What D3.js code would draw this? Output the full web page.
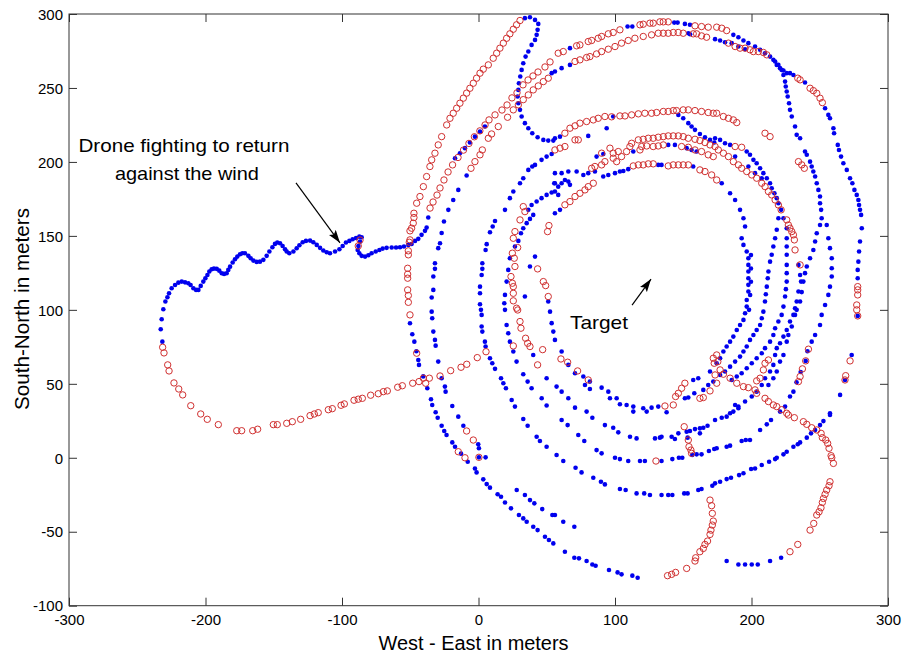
<!DOCTYPE html>
<html><head><meta charset="utf-8">
<script src="https://cdn.jsdelivr.net/npm/d3@7"></script>
<style>
body{margin:0;background:#fff;}
svg{display:block;background:#fff;}
text{font-family:"Liberation Sans",Arial,Helvetica,sans-serif;}
</style>
</head><body>
<svg id="chart" width="904" height="657"></svg>
<script>
// ---------- tick labels ----------
const xTicks = [-300,-200,-100,0,100,200,300];
const yTicks = [-100,-50,0,50,100,150,200,250,300];

// ---------- blue samples (x: West-East m, y: South-North m) ----------
const blueWiggle = [[-36.8,162.4],[-38.0,155.6],[-39.2,153.4],[-41.7,150.7],[-44.1,148.0],[-46.5,146.6],[-49.0,144.5],
[-51.4,143.9],[-54.6,142.8],[-57.5,142.3],[-60.4,142.1],[-63.6,142.1],[-67.3,141.9],[-70.2,141.4],[-72.6,140.5],[-75.3,139.4],[-78.3,138.3],[-80.7,136.9],[-83.1,136.0],[-85.6,136.5],[-87.3,138.3],[-88.5,140.5],[-88.0,143.2],[-86.8,146.1],[-85.6,149.1],[-87.3,149.5],[-89.7,148.6],[-92.2,147.7],[-94.6,146.6],[-97.1,145.5],[-99.5,143.2],[-101.9,141.0],[-105.1,139.4],[-108.8,138.3],[-111.2,138.9],[-113.7,140.1],[-116.1,141.9],[-118.5,143.9],[-121.0,145.7],[-123.4,146.8],[-126.4,146.6],[-128.8,145.7],[-131.2,143.7],[-133.2,141.6],[-135.6,139.4],[-138.6,138.3],[-140.5,139.4],[-141.7,141.0],[-143.5,143.2],[-145.4,145.0],[-147.4,145.5],[-149.1,144.6],[-151.0,142.3],[-153.2,139.4],[-155.2,136.5],[-157.6,133.8],[-160.1,132.6],[-162.5,132.4],[-164.9,133.3],[-166.9,134.9],[-168.6,136.5],[-171.1,138.3],[-173.0,138.3],[-174.7,137.6],[-176.7,136.0],[-178.4,134.2],[-180.1,132.0],[-182.0,129.2],[-183.3,127.0],[-184.5,124.7],[-186.4,124.3],[-188.1,124.7],[-189.9,126.5],[-191.8,127.7],[-193.8,127.9],[-195.5,127.4],[-197.2,125.9],[-198.6,123.6],[-200.1,121.4],[-201.6,119.1],[-203.5,116.2],[-205.2,113.5],[-206.9,113.5],[-208.9,114.6],[-210.9,116.8],[-212.6,118.0],[-215.0,118.6],[-217.4,119.1],[-219.9,118.4],[-222.3,116.8],[-224.8,114.6],[-226.7,111.2],[-227.9,108.5],[-229.4,105.6],[-230.9,100.4],[-232.1,93.6],[-232.8,86.9],[-231.6,78.5]];

const blueWestLoops = [
[-50.2,90.9],[-48.5,83.5],[-47.0,78.5],[-45.5,72.0],[-44.1,66.1],[-43.6,62.8],[-40.5,55.0],[-37.5,47.0],[-34.8,39.6],[-33.9,35.7],[-31.4,30.8],[-29.9,27.1],[-27.0,21.7],[-25.1,18.1],[-23.4,15.4],[-19.2,10.4],[-17.2,7.5],[-12.8,2.8],[-7.9,-2.7],[-2.6,-7.2],[-1.4,-9.9],[3.5,-14.6],[6.0,-17.8],[8.4,-20.2],[14.0,-24.7],[16.5,-26.3],[19.4,-30.2],[23.8,-34.2],[29.6,-38.7],[32.8,-41.0],[35.3,-43.2],[40.1,-46.6],[43.3,-48.9],[48.7,-53.4],[51.6,-55.6],[54.8,-57.9],
[63.3,-63.5],[70.2,-67.6],[73.6,-68.0],[79.2,-69.8],[83.4,-72.1],[85.8,-73.0],[95.6,-75.9],[101.9,-77.5],[104.8,-78.8],[112.7,-79.7],[116.6,-81.1],
[-8.7,190.8],[-14.8,181.1],[-18.5,174.3],[-22.1,167.6],[-25.3,159.7],[-27.0,152.0],[-28.2,145.0],[-29.5,141.7],[-31.9,131.5],[-31.9,127.7],[-33.1,122.5],[-33.1,113.5],[-34.3,108.3],[-34.3,98.8],[-33.9,94.3],[-33.1,85.3],[-31.9,79.7],[-31.4,75.8],[-29.5,65.0],[-27.0,53.8],[-24.6,48.1],[-24.1,44.7],[-19.2,35.0],[-14.8,27.8],[-11.1,21.7],[-0.2,9.1],[0.3,6.4],[0.3,0.3],[5.2,0.3],
[28.0,-21.8],[34.0,-25.2],[37.7,-28.6],[40.9,-30.8],[46.7,-34.7],[54.1,-38.7],[56.0,-38.7],[62.1,-43.2],[70.2,-46.6],
[12.1,160.1],[10.4,156.3],[8.4,152.5],[6.0,144.4],[5.2,140.5],[2.8,131.5],[2.8,127.7],[2.3,123.6],[1.1,115.7],[1.1,111.2],[1.1,103.8],[1.8,100.0],[2.3,96.6],[2.3,88.7],[2.8,85.3],[4.7,78.5],[5.2,75.2],[8.4,67.3],[10.1,63.9],[12.1,60.1],[16.5,53.8],[18.2,50.4],[20.1,47.0],[24.3,39.1],[26.7,34.6],[32.8,26.2],[36.0,21.7],[42.6,14.2],[45.0,11.3],[49.9,7.5],
[40.1,164.2],[37.7,161.5],[35.3,158.6],[32.8,155.2],[31.1,151.8],[29.2,146.6],[26.7,142.8],[23.0,134.9],[21.8,127.0],[20.6,119.1],[19.4,110.1],[18.9,104.5],[19.4,100.0],[20.6,89.8],[21.8,84.2],[23.0,78.5],[25.5,71.8],[27.9,65.0],[32.8,56.5],[36.0,51.5],[38.9,47.0],[46.3,40.2],[49.9,35.3],
[41.4,136.0],[37.7,129.3],[34.0,109.0],[51.1,105.6],[52.4,98.8],[53.6,91.0],[54.8,85.3],[40.1,69.5],[49.9,53.8]];

const blueSouthLoops = [
[57.2,1.9],[62.1,-2.2],[71.1,-6.7],[75.5,-9.9],[84.1,-13.5],[89.7,-16.2],[92.6,-18.0],[103.6,-21.1],[107.8,-21.8],[115.8,-24.1],[121.4,-24.1],[125.6,-25.2],[134.1,-25.2],[139.0,-25.2],[142.0,-25.2],[150.7,-24.1],[153.2,-24.1],[161.0,-21.8],[163.4,-21.1],[171.3,-18.9],[173.3,-17.3],[177.0,-16.2],[181.8,-14.4],[185.0,-13.5],[190.9,-11.7],[194.1,-10.5],[199.7,-7.6],[202.6,-7.2],[207.5,-4.9],[212.9,-2.7],[217.3,-0.9],[218.5,0.0],[223.4,2.3],[225.8,4.1],[230.7,7.5],[233.9,9.1],[235.6,10.4],[240.5,13.6],[243.6,16.5],[246.6,18.8],[250.2,22.1],[252.7,24.8],[257.5,28.9],
[60.9,25.5],[65.3,22.1],[73.1,15.4],[77.5,11.3],[86.5,5.2],[90.2,3.0],[100.0,0.0],[103.6,-0.9],[109.7,-2.2],[118.3,-2.2],[121.9,-2.2],[134.1,-2.2],[142.0,-0.9],[146.8,0.0],[149.3,0.0],[156.6,1.9],[159.8,2.3],[163.4,2.3],[168.8,4.6],[172.7,5.9],[174.5,6.4],[181.8,7.5],[184.3,8.2],[192.8,11.3],[195.8,12.0],[198.9,12.0],[206.3,18.8],[211.2,22.6],[214.3,25.5],
[56.0,79.7],[60.9,71.8],[65.8,62.8],[70.7,57.1],[76.8,54.9],[81.6,51.5],[57.2,48.1],[60.9,44.7],[65.8,40.2],[70.7,33.9],[79.2,31.2],[83.4,27.1],[92.6,22.1],[98.7,20.3],[102.4,17.2],[111.0,14.2],[115.8,13.1],[129.3,13.1],[132.9,13.6],[134.1,14.2],[141.5,14.2],[143.9,12.7],[146.4,16.5],[152.5,17.6],[154.9,18.1],[158.6,19.4],[162.2,19.9],[164.7,20.3],[167.8,21.7],[153.2,13.6],[162.2,16.5],[173.3,25.5],[178.2,27.1],[181.8,27.8],
[78.0,49.2],[81.6,46.5],[90.2,47.4],[95.1,44.7],[96.3,40.2],[101.2,40.2],[103.6,36.2],[108.5,35.7],[113.4,34.6],[120.7,33.5],[126.8,33.9],[131.7,34.6],[137.8,30.8],[113.4,31.2],[123.2,31.2],[151.2,40.2],[153.7,40.7],[158.1,43.6],[161.0,53.8],[157.3,52.6],[164.7,45.9],[168.3,49.2],[172.0,51.5],[169.6,58.3],
[181.8,-69.8],[190.4,-72.1],[195.3,-72.1],[200.2,-72.1],[204.6,-72.1],[213.6,-69.8],[221.7,-67.6]];

const blueEastLoops = [
[194.1,161.9],[195.3,156.3],[192.8,148.4],[194.1,143.9],[196.5,139.4],[197.7,134.9],[197.7,130.4],[197.7,125.9],[197.7,121.4],[197.7,116.9],[197.7,112.4],[196.5,106.7],[196.5,102.2],[195.3,97.7],[194.1,93.2],[191.6,89.8],[189.2,86.4],[186.7,81.9],[184.3,78.5],[181.8,75.2],[179.4,71.8],[177.0,67.3],[174.5,63.9],
[199.6,137.0],[199.6,128.0],[199.6,119.0],[199.0,110.0],[198.2,100.0],
[219.7,161.9],[218.5,154.1],[217.3,148.4],[216.0,142.8],[214.8,137.2],[213.6,132.6],[212.4,125.9],[211.9,121.4],[211.2,115.7],[210.5,110.5],[209.9,105.6],[208.7,98.8],[207.5,94.3],[206.3,89.8],[203.8,86.4],[201.4,83.0],[198.9,79.7],[196.5,75.2],[194.1,71.8],[191.6,68.4],[188.0,65.0],[184.3,61.6],[180.6,58.3],[177.0,56.0],
[223.4,161.9],[225.8,155.2],[225.8,148.4],[225.8,142.8],[225.8,137.2],[225.8,130.4],[225.8,124.8],[225.8,119.1],[225.2,114.0],[224.6,109.0],[223.4,102.2],[222.1,96.6],[219.7,92.1],[217.3,87.6],[216.0,83.0],[213.6,78.5],[209.9,74.1],[207.5,70.7],[203.8,67.3],[200.2,63.9],[196.5,60.5],[192.8,57.1],[189.2,54.9],[185.5,52.6],
[234.4,130.4],[235.6,123.6],[236.3,119.1],[234.4,112.4],[233.1,105.6],[231.9,101.1],[230.7,96.6],[228.2,92.1],[225.8,86.4],[223.4,81.9],[220.9,77.4],[218.5,74.1],[217.3,69.5],[216.0,62.8],[213.6,58.3],[209.9,53.8],[207.5,49.2],[203.8,44.7],[200.2,41.4],[195.3,38.0],[190.4,34.6],[186.7,31.2],
[251.4,161.9],[250.2,157.4],[247.8,151.8],[246.6,146.2],[245.3,140.5],[242.9,134.9],[240.5,129.3],[239.2,124.8],[238.0,119.1],[236.8,112.0],[235.6,105.6],[233.1,100.0],[231.9,96.6],[229.5,88.7],[227.0,83.0],[225.8,78.5],[223.4,69.5],[220.9,65.0],[218.5,58.3],[216.0,53.8],[212.4,49.2],
[255.1,157.4],[256.3,148.4],[257.5,141.7],[258.8,134.9],[258.8,128.1],[258.8,122.5],[257.5,115.7],[256.3,110.1],[253.9,103.3],[251.4,96.6],[250.2,89.8],[246.6,83.0],[244.1,78.5],[241.0,72.0],[239.7,65.5],[236.0,58.0],[233.0,51.0],[230.7,44.7],[228.2,41.4],[224.6,34.6],[220.9,31.2],
[280.3,164.2],[280.8,155.2],[279.5,146.2],[278.8,139.4],[278.3,132.6],[277.8,127.0],[277.8,121.4],[277.8,95.9],[273.4,69.5],[268.5,52.6],[264.9,42.5],[257.5,30.1],
[188.0,35.7],[190.4,33.5],[184.3,30.1],
[173.3,216.0],[177.0,214.9],[180.6,212.6],[184.3,211.5],[196.5,207.0],[198.9,204.8],[201.4,201.4],[203.8,199.1],[206.3,195.7],[208.7,192.4],[211.2,189.0],[213.6,185.6],[214.8,182.2],[216.8,178.8],[218.5,175.5],[219.7,172.1],[221.7,167.6],
[188.0,203.6],[197.7,196.9],[202.6,192.4],[207.5,189.0],[178.2,185.6],[184.3,178.8],[188.0,174.3],[191.6,167.6],
[224.6,254.3],[225.1,251.0],[225.8,247.6],[226.5,244.2],[227.5,239.7],[228.2,235.2],[229.5,230.7],[231.9,223.9],[233.1,218.3],[235.6,216.0],[239.2,207.0],[240.5,204.8],[242.9,200.2],[244.1,196.9],[245.3,193.5],[246.6,190.1],[247.8,185.6],[249.0,181.1],[250.2,176.6],[250.2,172.1],[251.0,167.6],
[228.2,260.0],[230.7,258.8],[239.2,253.7],[253.9,236.3],[256.3,231.8],[257.5,229.5],[260.0,222.8],[260.5,219.4],[263.2,211.5],[264.1,208.1],[265.6,203.6],[267.3,199.1],[269.8,194.6],[272.2,189.0],[273.9,185.6],[275.4,181.1],[277.1,177.7],[278.3,174.3],[278.8,170.9],[279.5,167.6]];

const blueNorthLoops = [
[186.7,285.9],[190.4,284.3],[194.1,282.1],[197.7,280.3],[202.6,278.0],[206.3,275.8],[209.9,273.5],[213.6,271.2],[216.0,269.0],[218.5,265.6],[220.9,263.4],[223.4,261.8],[225.8,260.0],[173.3,283.0],[177.0,282.1],[180.6,280.9],[185.5,280.3],[190.4,278.0],[195.3,276.2],[217.3,267.9],[219.7,265.6],[222.1,262.2],[223.4,258.8],
[34.0,297.2],[37.7,297.8],[41.4,296.0],[43.8,293.3],[43.3,289.3],[42.6,285.9],[41.4,282.5],[38.9,279.1],[36.5,274.6],[34.5,271.2],[32.8,266.7],[31.6,262.2],[30.6,257.7],[29.6,253.2],[29.2,248.7],[28.7,244.2],[29.2,239.7],[30.4,235.2],[31.6,230.7],[34.0,226.2],[36.5,222.8],[39.4,219.4],[43.3,216.7],[47.5,214.9],[51.1,214.4],[54.8,214.4],[56.0,216.0],[59.7,217.1],[80.4,217.6],[93.9,222.8],[98.7,230.7],
[-17.2,202.5],[-13.6,205.9],[-9.9,209.3],[-6.3,213.1],[-2.6,217.1],[1.1,220.5],[4.7,223.9],[53.6,260.0],[56.0,261.1],[60.9,263.4],[67.0,265.6],
[19.4,167.6],[23.0,175.5],[25.5,180.0],[30.4,185.6],[32.8,189.0],[36.5,194.6],[39.4,196.9],[41.4,198.0],[46.2,201.4],[49.9,203.6],[53.6,205.4],[36.5,167.6],[38.9,170.9],[42.6,173.2],[46.2,175.5],[49.9,177.7],[53.6,179.3],[55.5,185.6],
[67.0,276.9],[109.2,291.5],[112.7,291.5],[143.4,294.2],[145.9,294.2],[151.2,293.3],[154.9,292.7],[153.7,287.0],[155.0,286.3],
[146.4,231.8],[150.0,229.5],[153.7,226.2],[156.1,223.9],[158.6,221.7],[162.2,218.9],[165.9,216.7],[169.6,214.9],[172.7,213.1],
[139.0,211.5],[143.9,211.5],[152.5,209.3],[156.1,208.1],[159.8,207.0],[86.5,203.6],[113.4,207.0],[91.4,205.4],
[91.4,190.1],[95.1,191.2],[100.0,192.4],[103.6,193.5],[106.1,193.9],[109.7,195.1],[131.7,198.0],[134.1,198.0],[157.3,196.9],
[56.0,192.4],[60.9,192.4],[65.8,193.5],[71.9,193.5],[76.8,191.2],[80.4,192.4],[85.3,193.5],[56.0,185.6],[58.4,183.3],[60.9,185.6],[63.3,187.8],[65.8,186.7],[67.0,184.5],[56.0,180.0],[58.4,177.7],[59.7,167.6],[56.0,165.3]];

// ---------- red samples ----------
const redTail = [[-86.8,147.2],[-88.1,143.2],
[-231.4,74.7],[-230.4,70.9],[-227.7,62.8],[-226.7,58.7],[-223.1,50.6],[-219.6,46.5],[-216.7,42.5],[-210.8,35.2],[-203.5,29.6],[-198.7,26.0],[-190.6,22.4],[-177.1,18.3],[-173.5,18.3],[-165.4,18.3],[-161.8,19.3],[-150.3,22.4],[-147.4,22.4],[-140.5,23.3],[-136.4,24.4],[-130.3,26.0],[-123.4,28.5],[-120.3,29.6],[-117.4,30.5],[-110.0,32.5],[-107.1,33.2],[-100.7,35.5],[-98.3,36.4],[-91.2,38.9],[-88.1,39.6],[-85.1,40.2],[-79.0,42.3],[-73.4,43.3],[-69.7,44.7],[-66.8,45.2],[-59.2,47.7],[-55.8,48.7],[-48.2,50.4],[-43.6,51.5],[-40.4,53.8],[-38.7,50.4],[-36.0,53.8],[-28.2,55.3],[-20.4,58.9],[-12.8,61.2],[-8.6,63.2],[-0.9,67.7],[5.5,71.7]];

const redWestArcs = [
[-45.3,70.7],[-50.2,96.6],[-51.4,105.1],[-51.4,109.7],[-51.9,113.5],[-51.9,121.4],[-51.9,124.1],[-51.9,128.1],[-51.4,137.2],[-51.4,139.9],[-50.7,145.7],[-50.2,147.3],[-50.2,153.4],[-49.0,155.2],[-47.8,158.6],[-47.3,162.4],[-47.3,165.3],[-45.3,172.1],[-42.9,176.6],[-40.4,183.3],[-38.0,190.1],[-35.6,196.9],[-34.3,201.4],[-31.9,205.9],[-29.5,211.5],[-27.0,217.1],[-23.3,225.0],[-20.9,229.5],[-18.5,232.9],[-16.0,236.3],[-13.6,239.7],[-11.1,243.1],[-8.7,246.5],[-6.3,249.8],[-3.8,253.2],[-1.4,256.6],[1.1,260.0],[3.5,262.7],[7.2,265.6],[10.8,270.1],[13.3,273.5],[15.7,276.9],[18.2,280.3],[20.6,283.6],[23.0,286.6],[25.5,289.7],[27.9,292.7],[30.4,295.6],
[-35.5,168.8],[-33.3,172.9],[-30.4,177.6],[-28.2,182.4],[-25.3,187.8],[-22.3,193.2],[-19.0,198.0],[-15.0,203.0],[-11.0,208.0],[-7.0,212.5],[-3.0,217.0],[1.0,221.0],[4.8,225.0],[7.7,228.4],[12.1,231.8],[17.2,235.1],[20.9,238.5],[24.5,243.3],[28.2,246.7],[32.6,252.1],[36.3,255.4],[39.9,258.1],[43.6,260.8],[48.7,264.2],[52.4,267.6],
[-5.5,195.7],[-2.6,200.2],[1.1,204.8],[2.8,208.1],[7.2,216.0],[9.6,218.9],[14.5,223.9],[21.3,230.2],[25.5,235.2],[29.2,238.6],[32.8,242.1],[36.5,245.3],[40.1,248.7],[43.8,251.4],[47.5,254.3],[51.1,256.6],
[30.4,160.8],[26.7,152.9],[25.5,148.4],[28.7,142.1],[24.8,138.3],[26.2,134.9],[26.7,129.3],[23.8,122.5],[24.8,118.0],[25.5,115.7],[25.5,111.2],[25.5,106.1],[27.9,101.1],[28.7,99.9],[30.4,92.1],[31.1,87.6],[34.5,80.8],[36.0,77.4],[37.7,75.2],[25.5,75.6],[47.0,73.1],[43.3,62.8],[43.3,127.7],[47.5,119.1],[49.2,116.4],[51.1,109.0],[51.6,157.0],[50.6,152.9],[32.8,169.8],[34.0,166.4],
[-8.7,18.1],[-3.8,12.0],[-14.8,4.1],[-9.9,0.0],[0.3,0.3]];

const redNorthArcs = [
[58.4,273.5],[62.1,274.6],[71.9,278.5],[74.3,279.1],[80.4,281.4],[82.9,282.1],[87.7,283.6],[90.2,284.8],[95.1,286.6],[98.7,287.5],[103.6,289.3],[118.3,292.7],[120.7,293.1],[125.6,293.8],[128.0,293.8],[132.9,294.7],[135.4,294.7],[139.0,294.7],[158.6,292.0],[163.4,291.5],[168.3,291.1],[174.5,291.1],[178.2,290.4],[181.8,288.8],
[70.7,267.9],[74.3,269.0],[79.2,270.6],[81.6,271.2],[86.5,273.0],[90.2,274.6],[95.1,276.2],[100.0,278.0],[104.8,280.3],[109.7,282.1],[114.6,283.6],[120.7,284.8],[126.8,285.9],[131.7,287.0],[135.4,287.0],[139.0,287.0],[142.7,287.5],[146.3,287.5],[150.0,287.0],[157.3,286.6],[159.8,286.6],[163.4,285.2],[167.1,284.3],[183.1,280.3],[188.0,278.0],[191.6,276.9],[195.3,276.9],[198.9,275.8],[201.4,274.6],[205.0,274.6],[208.7,274.0],[211.2,272.4],
[233.9,256.6],[235.6,255.5],[242.9,249.8],[245.3,248.2],[247.8,246.4],[250.2,243.1],[251.9,240.1],
[63.3,219.4],[67.0,222.8],[70.7,224.4],[74.3,226.2],[79.2,227.3],[84.1,228.4],[87.7,229.5],[92.6,230.7],[97.5,230.5],[103.6,231.1],[107.3,231.1],[112.2,231.8],[117.1,232.5],[121.9,232.9],[126.8,232.9],[130.5,233.4],[135.4,234.1],[139.0,234.1],[142.7,234.7],[145.1,234.7],[150.0,235.2],[153.7,235.2],[158.6,234.7],[163.4,234.1],[168.3,233.4],[172.0,232.9],[174.5,232.9],[179.4,230.7],[183.1,229.5],[186.7,228.4],[189.2,226.6],
[56.0,208.1],[59.7,209.3],[63.3,210.4],[70.7,214.9],[73.1,214.9],[117.1,214.9],[120.7,215.3],[124.4,216.0],[128.0,216.0],[131.7,216.7],[135.4,217.1],[139.0,217.6],[142.7,217.6],[146.4,217.6],[150.0,217.1],[153.7,216.0],[158.6,215.3],[162.2,214.4],[165.9,213.1],[169.6,211.5],
[119.5,210.4],[123.2,210.8],[128.0,210.4],[131.7,210.8],[135.4,211.5],[148.8,210.4],[153.7,209.9],[158.6,208.1],[163.4,207.0],[168.3,204.8],[172.0,203.6],
[90.2,205.9],[96.3,209.3],[98.7,205.9],[102.4,207.0],[104.8,203.6],[108.5,207.0],[110.9,210.4],[112.2,212.6],[98.7,202.5],[101.2,200.2],[92.6,200.2],[85.3,196.9],[82.9,195.7],[90.2,198.0],[118.3,208.1],
[113.4,197.3],[117.1,198.0],[120.7,198.0],[124.4,198.7],[128.0,198.7],[139.0,197.3],[142.7,198.0],[146.4,198.0],[150.0,198.0],[153.7,198.0],[162.2,194.6],[165.9,193.5],[170.8,191.2],
[84.1,185.6],[80.4,183.3],[78.0,181.1],[74.3,178.8],[70.7,176.6],[67.0,173.2],[63.3,171.0],
[188.0,210.4],[192.8,209.9],[209.9,219.4],[213.6,217.1],
[173.3,210.4],[175.7,208.1],[179.4,205.9],[183.1,203.6],[186.7,200.2],[190.4,198.0],[192.8,195.7],[196.5,193.5],[200.2,191.2],[203.8,189.0],[207.5,185.6],[209.9,183.3],[212.4,180.0],[214.8,177.7],[217.3,174.3],[219.7,170.9],[221.7,167.6],[174.5,187.8],[234.4,200.2],[236.8,198.0],[238.7,195.7]];

const redEastArcs = [
[225.8,160.8],[227.0,157.4],[228.2,155.2],[229.5,152.9],[230.7,150.7],[231.4,147.3],[231.9,140.5],[235.6,130.4],
[277.8,115.7],[277.8,113.5],[277.8,110.1],[277.1,103.3],[277.1,100.0],[277.8,95.9],[272.2,65.5],[269.0,55.5],[268.5,52.6],
[241.7,73.4],[239.7,65.5],[237.3,60.1],[235.6,54.9],[234.4,51.5],
[174.5,69.5],[175.3,65.0],[177.0,59.4],[179.4,56.5],[184.3,53.8],[189.2,50.4],[194.1,48.1],[197.7,47.4],[202.6,45.9],[203.8,43.6],[209.9,40.2],[212.4,38.0],[216.0,35.7],[218.5,34.6],[222.1,32.5],[225.8,30.1],[212.4,66.1],[209.9,63.9],[208.7,59.4],[206.3,53.8],[203.8,52.0],[174.5,50.4],[173.3,56.0]];

const redSouthArcs = [
[227.0,28.9],[231.4,27.1],[238.0,24.4],[240.5,22.6],[244.1,20.3],[247.8,18.8],[251.0,16.5],[251.9,13.6],[254.4,12.0],[255.8,9.7],[256.8,6.4],[258.3,1.4],[258.8,0.0],[260.0,-3.8],[257.5,-16.2],[256.8,-18.9],[255.1,-21.8],[253.9,-24.7],[252.7,-27.5],[251.9,-30.2],[250.9,-33.8],[249.5,-36.5],[247.8,-38.7],[245.6,-44.4],[242.9,-48.9],[233.9,-58.6],[228.2,-63.5],
[150.7,21.0],[153.7,12.0],[154.2,7.5],[155.6,5.2],[156.1,3.0],[130.0,-2.2],
[169.6,-28.6],[170.8,-32.4],[171.3,-37.6],[172.0,-42.8],[171.3,-45.5],[170.3,-48.9],[169.6,-51.8],[167.8,-56.3],[165.9,-58.6],[164.7,-61.3],[162.2,-63.5],[159.1,-67.6],[158.6,-69.8],[152.5,-74.8],[144.4,-77.5],[141.5,-78.8],[138.5,-79.7],
[60.4,66.8],[65.3,64.6],[72.6,58.7],[80.4,52.6],[136.6,35.0],[142.7,35.7],[144.4,41.4],[146.4,43.6],[148.8,47.0],[151.2,50.4],[162.2,40.2],[164.7,40.7],[169.6,45.2],[172.7,63.9],[172.0,67.3]];

// ---------- annotations (data coordinates) ----------
const noteDrone = ["Drone fighting to return", "against the wind"];
const noteDroneAnchor = [[-215.8,206.8],[-213.6,187.8]];
const noteTarget = "Target";
const noteTargetAnchor = [67.0,87.2];
const arrowSegments = [[[-133.7,185.8],[-101.5,145.3]], [[112.5,103.2],[126.4,120.8]]];

// ---------- drawing ----------
const svg = d3.select("#chart");
const L = 69, R = 888, T = 14, B = 605.7;
const x = d3.scaleLinear().domain([-300,300]).range([L,R]);
const y = d3.scaleLinear().domain([-100,300]).range([B,T]);

const bluePoints = [].concat(blueWiggle, blueWestLoops, blueSouthLoops, blueEastLoops, blueNorthLoops);
const redPoints = [].concat(redTail, redWestArcs, redNorthArcs, redEastArcs, redSouthArcs);

const defs = svg.append("defs");
defs.append("marker").attr("id","ah").attr("markerUnits","userSpaceOnUse")
  .attr("viewBox","0 0 12 8").attr("refX",12).attr("refY",4)
  .attr("markerWidth",13).attr("markerHeight",9).attr("orient","auto")
  .append("path").attr("d","M0,0 L12,4 L0,8 L2.5,4 z").attr("fill","#000");

const plot = svg.append("g");
plot.selectAll("circle.b").data(bluePoints).join("circle").attr("class","b")
  .attr("cx",d=>x(d[0])).attr("cy",d=>y(d[1])).attr("r",2.3).attr("fill","#0000ee");
plot.selectAll("circle.r").data(redPoints).join("circle").attr("class","r")
  .attr("cx",d=>x(d[0])).attr("cy",d=>y(d[1])).attr("r",3.2)
  .attr("fill","none").attr("stroke","#d03030").attr("stroke-width",1);

// frame & axes
svg.append("rect").attr("x",L).attr("y",T).attr("width",R-L).attr("height",B-T)
  .attr("fill","none").attr("stroke","#333").attr("stroke-width",1);

const fmt = d => String(d);
const axB = svg.append("g").attr("transform",`translate(0,${B})`)
  .call(d3.axisBottom(x).tickValues(xTicks).tickSizeInner(-8).tickSizeOuter(0).tickPadding(9).tickFormat(fmt));
const axL = svg.append("g").attr("transform",`translate(${L},0)`)
  .call(d3.axisLeft(y).tickValues(yTicks).tickSizeInner(-8).tickSizeOuter(0).tickPadding(6).tickFormat(fmt));
const axT = svg.append("g").attr("transform",`translate(0,${T})`)
  .call(d3.axisTop(x).tickValues(xTicks).tickSizeInner(-8).tickSizeOuter(0).tickFormat(""));
const axR = svg.append("g").attr("transform",`translate(${R},0)`)
  .call(d3.axisRight(y).tickValues(yTicks).tickSizeInner(-8).tickSizeOuter(0).tickFormat(""));
[axB,axL,axT,axR].forEach(g=>{
  g.select(".domain").remove();
  g.selectAll("line").attr("stroke","#333");
  g.selectAll("text").attr("font-size",15).attr("fill","#000")
   .attr("font-family","'Liberation Sans',Arial,sans-serif");
});
axL.selectAll("text").attr("dy","0.35em");

// axis titles
svg.append("text").attr("x",(L+R)/2 - 5).attr("y",650).attr("text-anchor","middle")
  .attr("font-size",20).attr("textLength",190).attr("lengthAdjust","spacingAndGlyphs")
  .text("West - East in meters");
svg.append("text").attr("transform","translate(29,309) rotate(-90)").attr("text-anchor","middle")
  .attr("font-size",20).attr("textLength",202).attr("lengthAdjust","spacingAndGlyphs")
  .text("South-North in meters");

// annotations
const widths = [211,144];
noteDrone.forEach((t,i)=>{
  svg.append("text").attr("x",x(noteDroneAnchor[i][0])).attr("y",y(noteDroneAnchor[i][1]))
    .attr("text-anchor","middle").attr("font-size",19)
    .attr("textLength",widths[i]).attr("lengthAdjust","spacingAndGlyphs").text(t);
});
svg.append("text").attr("x",x(noteTargetAnchor[0])).attr("y",y(noteTargetAnchor[1]))
  .attr("font-size",19).attr("textLength",58).attr("lengthAdjust","spacingAndGlyphs").text(noteTarget);
arrowSegments.forEach(s=>{
  svg.append("line").attr("x1",x(s[0][0])).attr("y1",y(s[0][1]))
    .attr("x2",x(s[1][0])).attr("y2",y(s[1][1]))
    .attr("stroke","#000").attr("stroke-width",1.2).attr("marker-end","url(#ah)");
});
</script>
</body></html>
